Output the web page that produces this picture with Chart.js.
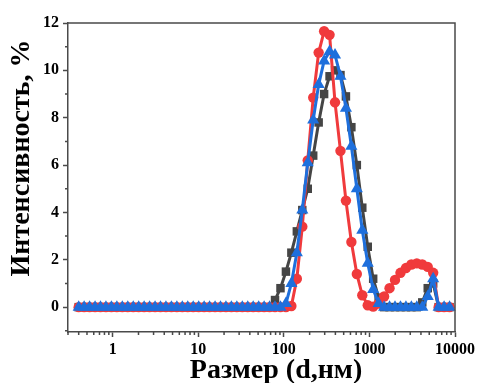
<!DOCTYPE html>
<html><head><meta charset="utf-8">
<script src="https://cdn.jsdelivr.net/npm/chart.js@4/dist/chart.umd.min.js"></script>
<style>html,body{margin:0;padding:0;background:#fff}#wrap{width:478px;height:383px;position:relative}</style>
</head><body><div id="wrap"><canvas id="c"></canvas></div>
<script>
const sizes = [0.4, 0.4632, 0.5365, 0.6213, 0.7195, 0.8332, 0.9649, 1.117, 1.294, 1.499, 1.736, 2.01, 2.328, 2.696, 3.122, 3.615, 4.187, 4.849, 5.615, 6.503, 7.531, 8.721, 10.1, 11.7, 13.54, 15.69, 18.17, 21.04, 24.36, 28.21, 32.67, 37.84, 43.82, 50.75, 58.77, 68.06, 78.82, 91.28, 105.7, 122.4, 141.8, 164.2, 190.1, 220.2, 255, 295.3, 342, 396.1, 458.7, 531.2, 615.1, 712.4, 825, 955.4, 1106, 1281, 1484, 1718, 1990, 2305, 2669, 3091, 3580, 4145, 4801, 5560, 6439, 7456, 8635];
const blackSeries = [0,0,0,0,0,0,0,0,0,0, 0,0,0,0,0,0,0,0,0,0, 0,0,0,0,0,0,0,0,0,0, 0,0,0,0,0,0,
  0.3, 0.8, 1.5, 2.3, 3.2, 4.1, 5.0, 6.4, 7.8, 9.0, 9.75, 10.0, 9.8, 8.9, 7.6, 6.0, 4.2, 2.55, 1.2, 0.4,
  0, 0, 0, 0, 0, 0, 0, 0.2, 0.8, 1.0, 0, 0, 0];
const redSeries = [0,0,0,0,0,0,0,0,0,0, 0,0,0,0,0,0,0,0,0,0, 0,0,0,0,0,0,0,0,0,0, 0,0,0,0,0,0,0,0,0,
  0.05, 1.2, 3.4, 6.2, 8.85, 10.75, 11.65, 11.5, 8.65, 6.6, 4.5, 2.75, 1.4, 0.5, 0.08, 0.02,
  0.15, 0.45, 0.8, 1.15, 1.45, 1.65, 1.8, 1.85, 1.8, 1.7, 1.45, 0, 0, 0];
const blueSeries = [0,0,0,0,0,0,0,0,0,0, 0,0,0,0,0,0,0,0,0,0, 0,0,0,0,0,0,0,0,0,0, 0,0,0,0,0,0,0,0,
  0.15, 1.0, 2.3, 4.1, 6.1, 7.9, 9.4, 10.4, 10.8, 10.65, 9.75, 8.4, 6.8, 5.0, 3.25, 1.85, 0.75, 0.15,
  0, 0, 0, 0, 0, 0, 0, 0, 0.45, 1.2, 0, 0, 0];
const xTickValues = [1, 10, 100, 1000, 10000];
const yTickValues = [0, 2, 4, 6, 8, 10, 12];
const yMinorValues = [-1, 1, 3, 5, 7, 9, 11];
const xTitle = 'Размер (d,нм)';
const yTitle = 'Интенсивность, %';

const toPts = arr => arr.map((v, i) => ({x: sizes[i], y: v}));
const FONT = 'Liberation Serif';
const AX = '#4a4a4a';

const extras = {
  id: 'extras',
  afterDraw(chart) {
    const ctx = chart.ctx;
    const {left, right, top, bottom} = chart.chartArea;
    const xs = chart.scales.x, ys = chart.scales.y;
    ctx.save();
    ctx.strokeStyle = AX;
    ctx.lineWidth = 1.5;
    ctx.beginPath();
    ctx.moveTo(left, top); ctx.lineTo(right, top); ctx.lineTo(right, bottom);
    ctx.stroke();
    ctx.beginPath();
    yMinorValues.forEach(v => { const p = ys.getPixelForValue(v); ctx.moveTo(left - 3, p); ctx.lineTo(left, p); });
    [0.1, 1, 10, 100, 1000].forEach(d => {
      for (let m = 2; m <= 9; m++) {
        const v = m * d;
        if (v < xs.min || v > xs.max) continue;
        const p = xs.getPixelForValue(v);
        ctx.moveTo(p, bottom); ctx.lineTo(p, bottom + 3);
      }
    });
    ctx.stroke();
    ctx.fillStyle = '#000';
    ctx.font = 'bold 28px "' + FONT + '"';
    ctx.textAlign = 'center';
    ctx.textBaseline = 'middle';
    ctx.fillText(xTitle, 276, 371);
    ctx.translate(22, 158);
    ctx.rotate(-Math.PI / 2);
    ctx.fillText(yTitle, 0, 0);
    ctx.restore();
  }
};

const tickFont = {family: FONT, weight: 'bold', size: 16};
new Chart(document.getElementById('c'), {
  type: 'line',
  data: {
    datasets: [
      {data: toPts(blackSeries), borderColor: '#454545', backgroundColor: '#454545', pointStyle: 'rect', pointRadius: 6, pointBorderWidth: 0, borderWidth: 3, order: 3, clip: false},
      {data: toPts(redSeries), borderColor: '#f03a3c', backgroundColor: '#f03a3c', pointStyle: 'circle', pointRadius: 5.2, pointBorderWidth: 0, borderWidth: 3, order: 2, clip: false},
      {data: toPts(blueSeries), borderColor: '#1e6fdc', backgroundColor: '#1e6fdc', pointStyle: 'triangle', pointRadius: 7, pointBorderWidth: 0, borderWidth: 3, order: 1, clip: false}
    ]
  },
  options: {
    responsive: true, maintainAspectRatio: false, animation: false,
    layout: {padding: {top: 23, right: 21, left: 0, bottom: 0}},
    plugins: {legend: {display: false}, tooltip: {enabled: false}},
    elements: {line: {tension: 0}},
    scales: {
      x: {
        type: 'logarithmic', min: 0.3, max: 10000,
        afterBuildTicks: s => { s.ticks = xTickValues.map(v => ({value: v})); },
        afterFit: s => { s.height = 51; },
        ticks: {callback: v => String(v), font: tickFont, color: '#000', padding: 3, maxRotation: 0, autoSkip: false},
        grid: {drawOnChartArea: false, tickLength: 5, tickColor: AX, tickWidth: 1.5},
        border: {color: AX, width: 1.5}
      },
      y: {
        type: 'linear', min: -1.05, max: 12,
        afterBuildTicks: s => { s.ticks = yTickValues.map(v => ({value: v})); },
        afterFit: s => { s.width = 68; },
        ticks: {font: tickFont, color: '#000', padding: 4},
        grid: {drawOnChartArea: false, tickLength: 5, tickColor: AX, tickWidth: 1.5},
        border: {color: AX, width: 1.5}
      }
    }
  },
  plugins: [extras]
});
</script></body></html>
